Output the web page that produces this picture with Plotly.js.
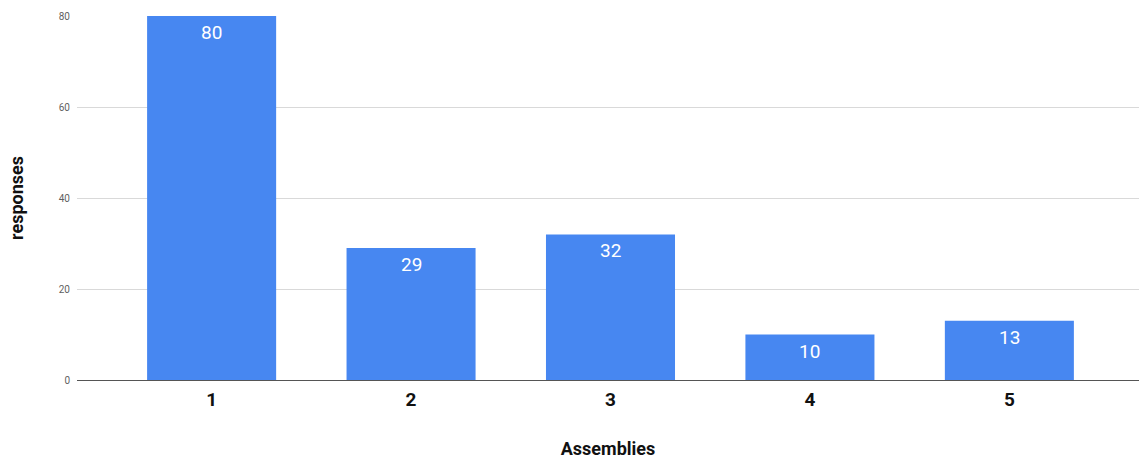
<!DOCTYPE html>
<html>
<head>
<meta charset="utf-8">
<script src="https://cdn.plot.ly/plotly-3.0.1.min.js"></script>
<style>
  html, body { margin: 0; padding: 0; background: #fff; }
  #chart { width: 1139px; height: 464px; }
</style>
</head>
<body>
<div id="chart"></div>
<script>
// Number of assemblies attended, and how many responses gave each
const assemblies = ['1', '2', '3', '4', '5'];
const responses = [80, 29, 32, 10, 13];
const yTicks = [0, 20, 40, 60, 80];

const barColor = '#4787F1';

const trace = {
  type: 'bar',
  x: assemblies,
  y: responses,
  marker: { color: barColor, line: { width: 0 } },
  width: 0.647,
  hoverinfo: 'x+y'
};

// Value labels sit just inside the top of each bar (x is the category index)
const valueLabels = assemblies.map((a, i) => ({
  x: i,
  y: responses[i],
  xref: 'x',
  yref: 'y',
  text: String(responses[i]),
  showarrow: false,
  xanchor: 'center',
  yanchor: 'top',
  yshift: -3,
  font: { family: 'Roboto, Arial, sans-serif', size: 19, color: '#ffffff' }
}));

const layout = {
  width: 1139,
  height: 464,
  margin: { l: 77, r: 0, t: 16, b: 84 },
  paper_bgcolor: '#ffffff',
  plot_bgcolor: '#ffffff',
  showlegend: false,
  font: { family: 'Roboto, Arial, sans-serif' },
  xaxis: {
    type: 'category',
    range: [-0.675, 4.65],
    showgrid: false,
    zeroline: false,
    showline: false,
    ticks: 'outside',
    ticklen: 2,
    tickcolor: 'rgba(0,0,0,0)',
    tickfont: { family: 'Roboto, Arial, sans-serif', size: 19, color: '#111111', weight: 'bold' },
    title: {
      text: 'Assemblies',
      font: { family: 'Roboto, Arial, sans-serif', size: 18, color: '#111111', weight: 'bold' },
      standoff: 32
    },
    fixedrange: true
  },
  yaxis: {
    range: [0, 80],
    tickvals: yTicks,
    ticktext: yTicks.map(String),
    showgrid: true,
    gridcolor: '#d9d9d9',
    gridwidth: 1,
    zeroline: true,
    zerolinecolor: '#555555',
    zerolinewidth: 1,
    showline: false,
    ticks: '',
    ticklabelstandoff: 6,
    tickfont: { family: 'Roboto, Arial, sans-serif', size: 10, color: '#5f5f5f' },
    title: {
      text: 'responses',
      font: { family: 'Roboto, Arial, sans-serif', size: 18, color: '#111111', weight: 'bold' },
      standoff: 30
    },
    fixedrange: true
  },
  annotations: valueLabels
};

Plotly.newPlot('chart', [trace], layout, { displayModeBar: false, staticPlot: true });
</script>
</body>
</html>
